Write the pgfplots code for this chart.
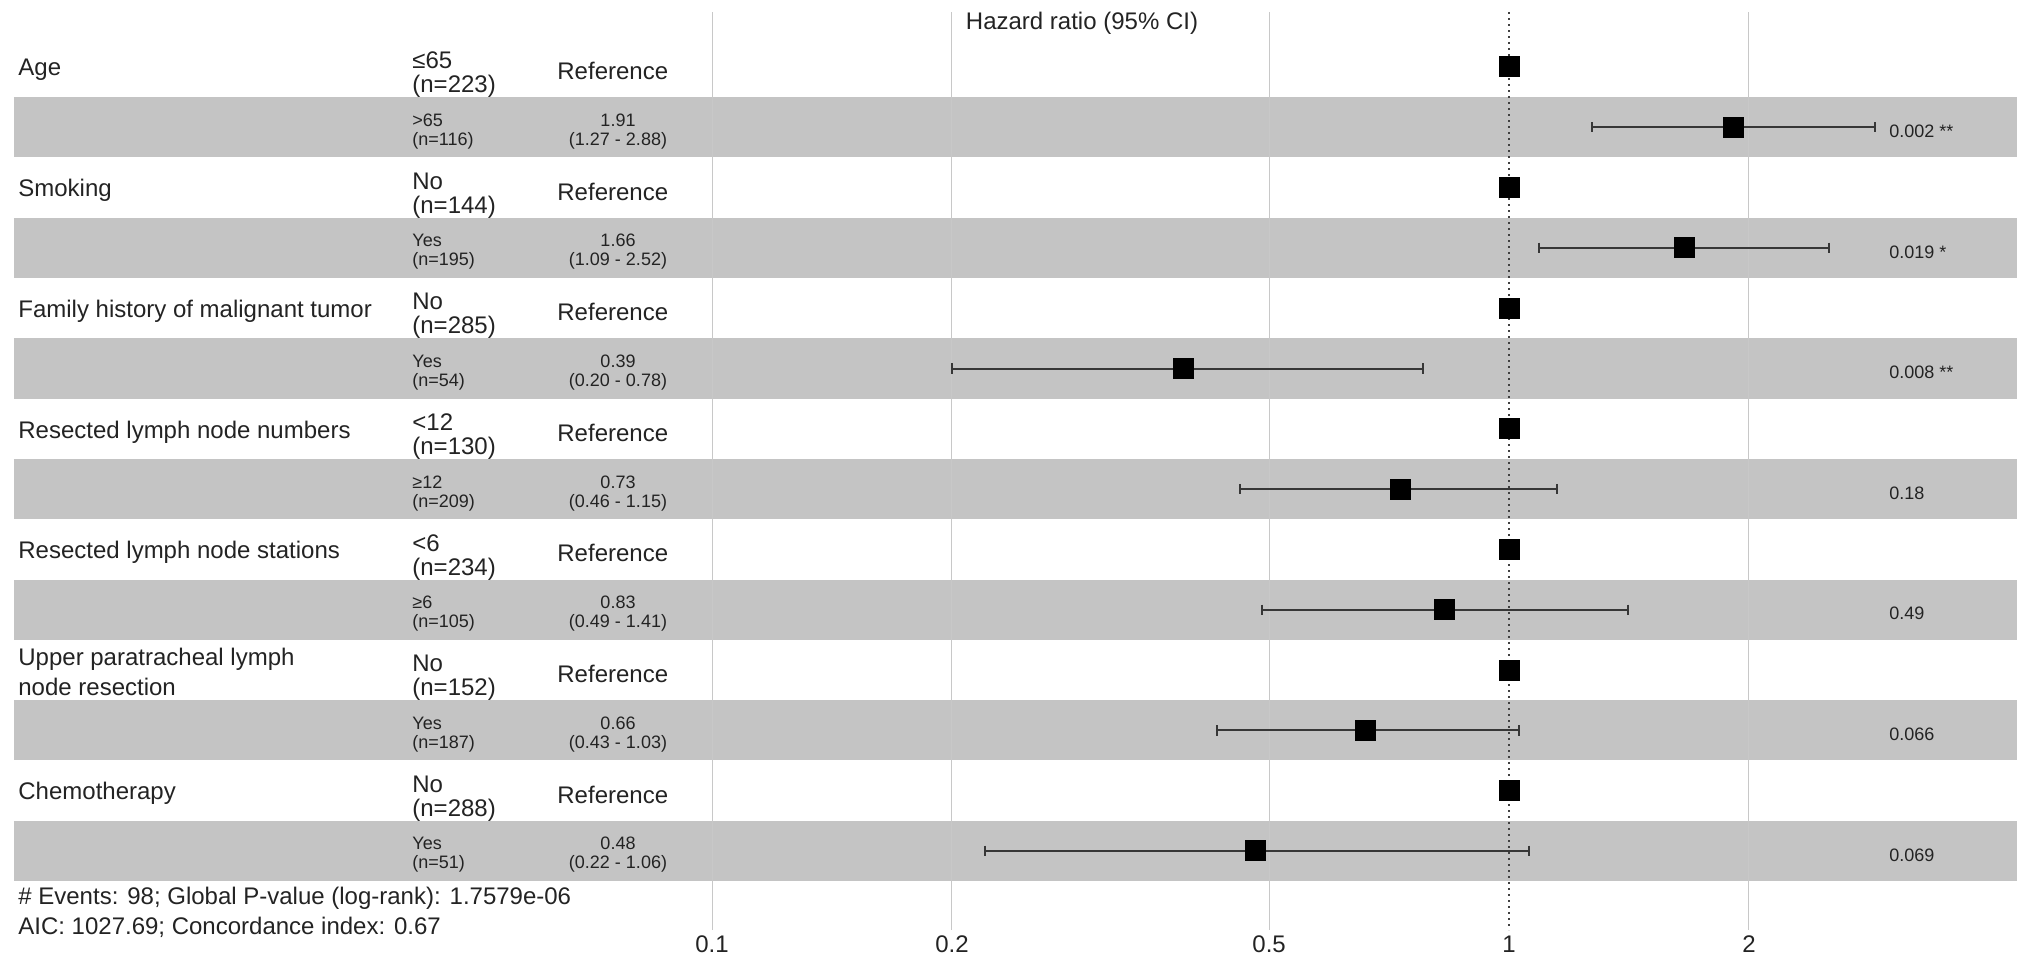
\documentclass[border=0pt]{standalone}
\usepackage{fontspec}
\setmainfont{Liberation Sans}
\usepackage{pgfplots}
\usepackage{pgfplotstable}
\pgfplotsset{compat=1.18}

\definecolor{band}{RGB}{196,196,196}
\definecolor{gridc}{RGB}{200,200,200}
\definecolor{cic}{RGB}{55,55,55}
\definecolor{txt}{RGB}{35,35,35}

% row, hazard ratio
\pgfplotstableread{
row hr
1  1
2  1.91
3  1
4  1.66
5  1
6  0.39
7  1
8  0.73
9  1
10 0.83
11 1
12 0.66
13 1
14 0.48
}\hrtab

\begin{document}
\begin{tikzpicture}
\useasboundingbox (0,0) rectangle (1016pt,-486pt);
\begin{axis}[
  at={(7pt,-465pt)}, anchor=south west,
  scale only axis,
  width=1001.5pt, height=459pt,
  xmode=log,
  xmin=0.01331, xmax=4.339,
  ymin=0.088, ymax=15.312,
  y dir=reverse,
  axis line style={draw=none},
  tick style={draw=none},
  ytick=\empty,
  xtick={0.1,0.2,0.5,1,2},
  xticklabels={0.1,0.2,0.5,1,2},
  xticklabel style={font=\fontsize{12}{12}\selectfont, text=txt, anchor=center, yshift=-7pt},
  ci/.style={cic, line width=1pt, mark=|, mark size=2.6pt, mark options={solid, line width=1pt}},
]
% grey bands behind the even rows
\pgfplotsinvokeforeach{2,4,6,8,10,12,14}{
  \addplot[band, line width=30.15pt, forget plot] coordinates {(0.01331,#1) (4.339,#1)};
}
% grid lines
\pgfplotsinvokeforeach{0.1,0.2,0.5,2}{
  \addplot[gridc, line width=0.5pt] coordinates {(#1,0.088) (#1,15.312)};
}
\addplot[black!75, line width=0.8pt, dash pattern=on 1.2pt off 1.8pt] coordinates {(1,0.088) (1,15.312)};
% confidence intervals
\addplot[ci] coordinates {(1.27,2) (2.88,2)};
\addplot[ci] coordinates {(1.09,4) (2.52,4)};
\addplot[ci] coordinates {(0.20,6) (0.78,6)};
\addplot[ci] coordinates {(0.46,8) (1.15,8)};
\addplot[ci] coordinates {(0.49,10) (1.41,10)};
\addplot[ci] coordinates {(0.43,12) (1.03,12)};
\addplot[ci] coordinates {(0.22,14) (1.06,14)};
% point estimates
\addplot[only marks, mark=square*, mark size=5pt, mark options={fill=black, draw=black, line width=0.5pt}] table[x=hr, y=row] {\hrtab};
\end{axis}

\begin{scope}[x=0.5pt, y=-0.5pt, text=txt,
  big/.style={font=\fontsize{12}{12}\selectfont, anchor=west, inner sep=0pt, align=left},
  small/.style={font=\fontsize{9}{9.5}\selectfont, inner sep=0pt}]
\node[big, anchor=center] at (1082,23) {Hazard ratio (95\% CI)};
% variable names
\node[big] at (18,70) {Age};
\node[big] at (18,190.6) {Smoking};
\node[big] at (18,311.2) {Family history of malignant tumor};
\node[big] at (18,431.8) {Resected lymph node numbers};
\node[big] at (18,552.4) {Resected lymph node stations};
\node[big, font=\fontsize{12}{15}\selectfont] at (18,672) {Upper paratracheal lymph\\node resection};
\node[big] at (18,793.6) {Chemotherapy};
% reference groups
\node[big] at (412,75) {≤65\\(n=223)};
\node[big] at (412,195.6) {No\\(n=144)};
\node[big] at (412,316.2) {No\\(n=285)};
\node[big] at (412,436.8) {<12\\(n=130)};
\node[big] at (412,557.4) {<6\\(n=234)};
\node[big] at (412,678) {No\\(n=152)};
\node[big] at (412,798.6) {No\\(n=288)};
\foreach \y in {67,187.6,308.2,428.8,549.4,670,790.6}
  \node[big] at (557,\y+4) {Reference};
% compared groups
\node[small, anchor=west, align=left] at (412,131.3) {>65\\(n=116)};
\node[small, anchor=west, align=left] at (412,251.9) {Yes\\(n=195)};
\node[small, anchor=west, align=left] at (412,372.5) {Yes\\(n=54)};
\node[small, anchor=west, align=left] at (412,493.1) {≥12\\(n=209)};
\node[small, anchor=west, align=left] at (412,613.7) {≥6\\(n=105)};
\node[small, anchor=west, align=left] at (412,734.3) {Yes\\(n=187)};
\node[small, anchor=west, align=left] at (412,854.9) {Yes\\(n=51)};
% hazard ratios
\node[small, align=center] at (618,131.3) {1.91\\(1.27 - 2.88)};
\node[small, align=center] at (618,251.9) {1.66\\(1.09 - 2.52)};
\node[small, align=center] at (618,372.5) {0.39\\(0.20 - 0.78)};
\node[small, align=center] at (618,493.1) {0.73\\(0.46 - 1.15)};
\node[small, align=center] at (618,613.7) {0.83\\(0.49 - 1.41)};
\node[small, align=center] at (618,734.3) {0.66\\(0.43 - 1.03)};
\node[small, align=center] at (618,854.9) {0.48\\(0.22 - 1.06)};
% p values
\node[small, anchor=west] at (1889,131.3) {0.002 **};
\node[small, anchor=west] at (1889,251.9) {0.019 *};
\node[small, anchor=west] at (1889,372.5) {0.008 **};
\node[small, anchor=west] at (1889,493.1) {0.18};
\node[small, anchor=west] at (1889,613.7) {0.49};
\node[small, anchor=west] at (1889,734.3) {0.066};
\node[small, anchor=west] at (1889,854.9) {0.069};
% footer
\node[big] at (18,898) {\# Events: 98; Global P-value (log-rank): 1.7579e-06};
\node[big] at (18,927) {AIC: 1027.69; Concordance index: 0.67};
\end{scope}
\end{tikzpicture}
\end{document}
